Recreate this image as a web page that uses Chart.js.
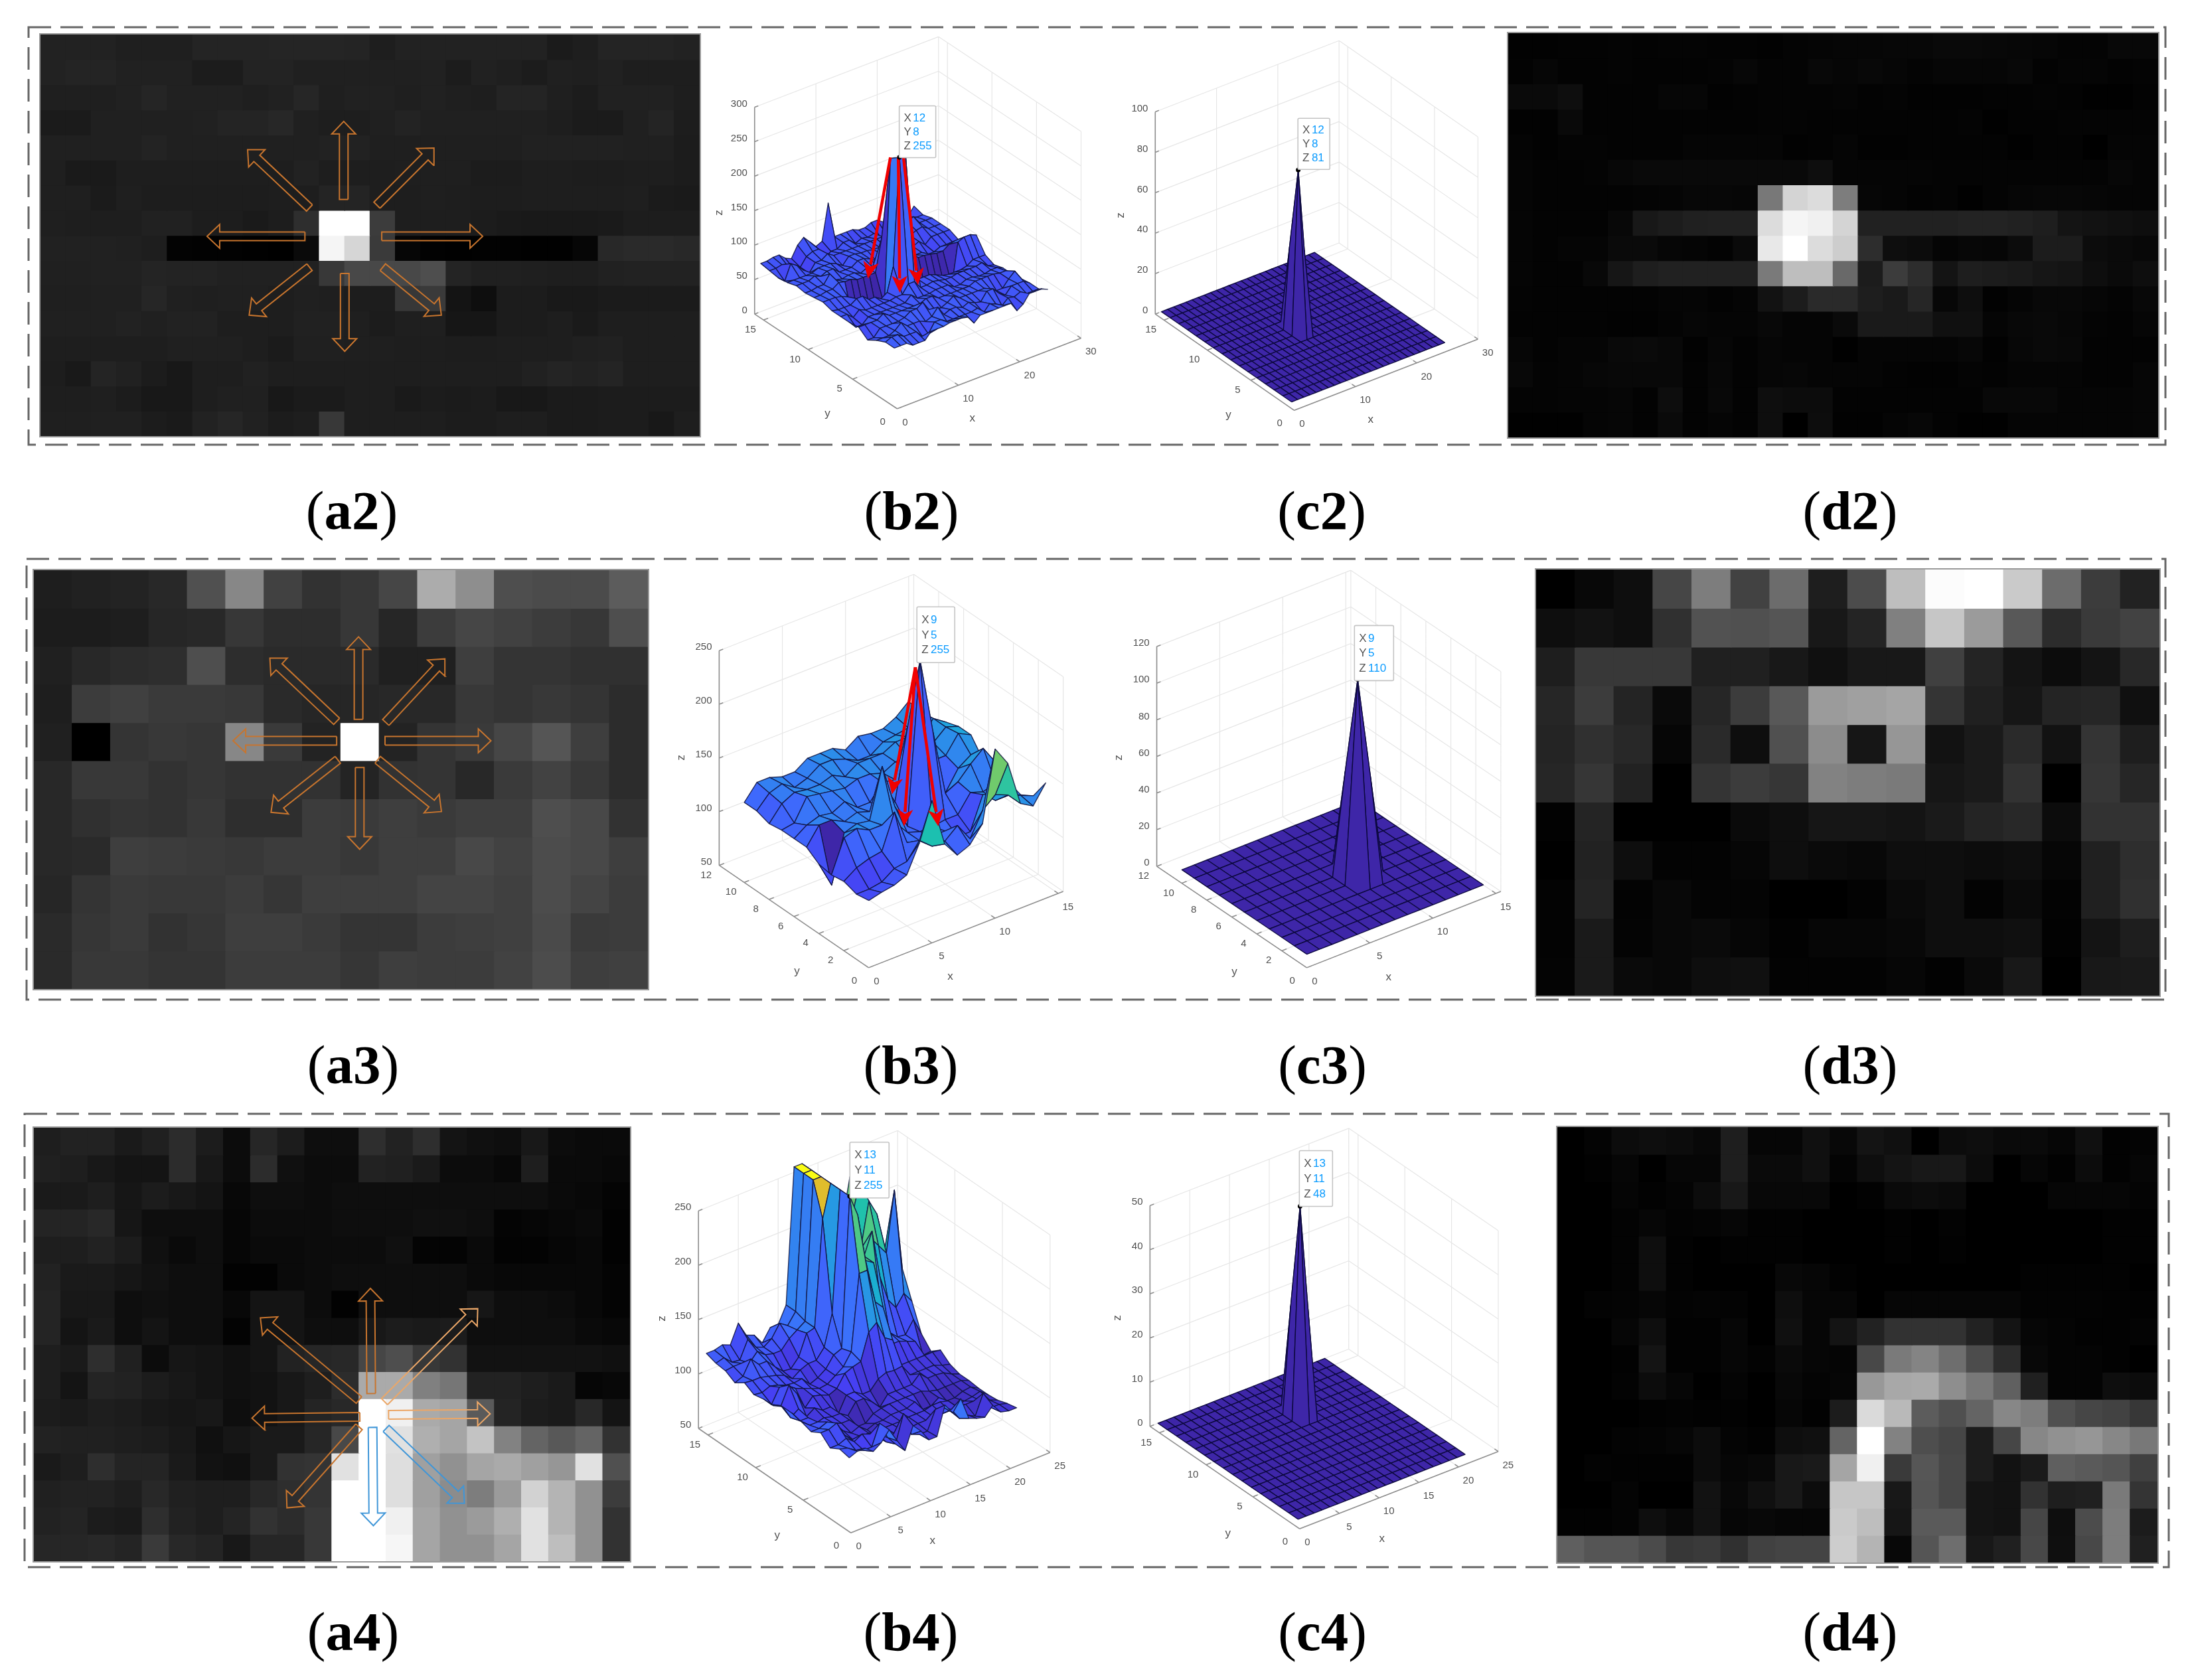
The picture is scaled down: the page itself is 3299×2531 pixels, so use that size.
<!DOCTYPE html>
<html>
<head>
<meta charset="utf-8">
<title>Small target neighbourhoods</title>
<script src="https://cdn.jsdelivr.net/npm/chart.js@4/dist/chart.umd.min.js"></script>
<style>
  html, body { margin: 0; background: #fff; }
  #page { position: relative; width: 3299px; height: 2531px; overflow: hidden; }
  #page canvas { position: absolute; }
  #frames { position: absolute; left: 0; top: 0; }
  .cap { position: absolute; transform: translate(-50%, -50%); font: 83px "Liberation Serif", serif; color: #000; white-space: nowrap; }
  .cap b { font-weight: 700; }
</style>
</head>
<body>
<div id="page">
<svg id="frames" width="3299" height="2531"></svg>
</div>
<script>
// grey levels of the image panels, row by row from the top
const a2Gray = [
  [34,34,34,31,31,31,36,36,36,37,37,37,36,30,34,34,34,34,34,34,27,30,36,36,36,34],
  [34,36,36,33,33,33,28,28,35,35,32,32,32,32,32,33,28,33,31,28,32,31,33,30,30,30],
  [31,31,31,33,37,33,33,33,31,33,38,31,33,33,31,33,31,30,36,36,31,28,33,33,33,30],
  [27,27,32,32,32,32,33,36,36,39,32,30,30,32,35,32,32,32,32,32,30,27,27,32,36,29],
  [32,32,32,32,35,32,32,32,32,32,32,34,34,31,31,31,31,31,31,33,33,33,33,32,32,28],
  [31,26,26,30,30,30,30,30,30,30,34,30,30,30,31,31,31,28,28,30,30,29,29,30,30,28],
  [31,31,27,31,29,29,29,29,29,30,30,36,36,30,30,31,30,29,29,30,30,30,30,31,27,26],
  [31,30,30,30,33,33,29,29,26,29,46,255,255,60,30,30,30,28,26,25,25,25,26,29,29,29],
  [33,33,33,32,30,3,2,2,1,0,10,245,214,58,6,2,1,2,2,1,1,6,40,42,42,40],
  [32,32,33,33,36,35,35,33,33,33,33,56,72,72,72,78,36,32,32,31,30,30,33,34,34,34],
  [31,31,32,32,38,32,31,32,32,30,32,31,29,29,55,58,20,14,28,28,25,25,27,27,27,27],
  [32,32,32,34,32,34,34,30,30,30,33,33,31,28,31,31,22,22,28,28,30,26,30,30,30,30],
  [30,30,30,30,30,32,32,32,30,27,32,32,31,31,30,30,29,29,30,30,30,32,33,30,30,30],
  [29,25,36,33,28,24,30,30,33,30,30,30,30,30,30,30,30,30,30,33,36,34,36,30,30,30],
  [30,30,31,28,24,24,30,32,32,24,27,27,30,30,26,28,27,28,24,24,27,27,28,28,28,28],
  [31,31,32,32,28,26,34,38,33,28,30,56,30,30,30,30,28,28,30,30,27,27,28,28,24,30]
];
const d2Gray = [
  [2,2,3,3,4,3,4,4,3,3,2,4,5,6,6,7,7,9,9,8,7,6,4,4,8,8],
  [3,6,3,3,4,3,3,3,4,7,4,4,8,6,8,6,4,6,6,6,8,3,5,5,3,4],
  [10,10,14,3,3,3,6,6,2,3,4,4,4,5,3,4,2,2,2,3,3,4,3,1,1,3],
  [2,2,9,3,3,3,3,3,3,3,4,4,3,3,3,3,3,3,4,1,3,3,4,4,4,4],
  [4,2,4,4,3,3,3,5,5,5,5,2,3,5,2,2,3,3,3,3,1,3,3,0,5,5],
  [5,3,3,4,7,9,9,9,9,9,9,9,14,5,5,5,5,4,4,4,4,4,4,4,7,5],
  [5,3,3,3,3,4,5,7,7,6,120,212,220,125,6,5,3,4,1,4,6,7,7,6,5,5],
  [5,3,3,3,8,24,28,32,33,33,220,245,240,212,33,33,33,33,35,35,33,30,20,18,16,14],
  [5,3,5,5,10,10,6,5,3,10,232,255,220,205,45,14,12,5,7,6,12,28,28,12,10,8],
  [5,3,3,8,22,30,33,33,33,33,122,190,190,105,28,60,45,20,30,28,26,22,20,14,10,14],
  [4,3,3,3,3,3,5,5,3,5,18,28,42,42,30,26,38,7,14,2,5,8,8,6,4,8],
  [3,3,3,3,2,2,4,6,5,5,8,5,5,10,26,26,26,16,16,5,8,9,7,4,3,6],
  [6,3,5,5,9,10,8,2,6,3,6,5,5,1,5,5,5,5,7,2,7,9,8,3,3,3],
  [8,4,5,7,8,8,8,3,7,3,6,7,5,5,5,3,2,2,4,3,5,5,5,3,3,6],
  [4,4,5,5,6,3,13,3,8,3,14,12,12,3,3,3,3,3,3,8,8,8,5,5,5,6],
  [1,1,1,5,6,3,10,3,5,3,14,0,13,2,2,5,7,3,1,1,5,5,5,5,5,6]
];
const a3Gray = [
  [30,33,35,40,80,135,65,50,55,70,172,142,78,75,75,92],
  [28,28,30,38,40,55,45,45,55,38,60,70,65,60,55,78],
  [32,40,44,46,78,45,42,42,42,32,32,62,52,52,48,48],
  [30,60,64,58,58,56,42,38,38,40,40,56,52,56,52,44],
  [32,0,52,56,54,135,58,35,255,35,52,58,70,85,62,44],
  [40,56,56,50,54,50,50,50,36,50,52,40,58,66,56,44],
  [40,48,52,50,56,46,46,60,58,62,58,62,62,78,72,50],
  [40,42,62,60,58,56,60,60,56,62,62,72,66,76,72,62],
  [38,52,58,56,56,60,54,62,62,62,68,68,64,76,68,60],
  [42,54,58,50,54,62,62,58,52,52,60,62,64,74,58,60],
  [42,56,56,52,52,60,60,60,54,62,60,60,66,76,62,64]
];
const d3Gray = [
  [0,8,14,70,125,66,108,30,76,190,252,255,202,108,60,34],
  [14,18,14,48,82,80,85,24,36,128,198,155,88,44,58,66],
  [30,56,56,56,32,32,24,16,24,24,64,36,20,12,20,40],
  [38,60,36,10,38,60,88,155,160,165,52,32,22,36,38,16],
  [36,48,40,6,42,14,80,140,22,150,18,26,42,18,52,30],
  [38,54,34,0,52,60,54,130,125,122,22,26,50,0,54,38],
  [2,36,0,0,0,10,14,22,22,20,26,36,40,12,50,50],
  [0,34,14,3,3,6,14,10,8,14,14,12,14,6,32,46],
  [3,36,3,8,4,4,0,0,3,10,14,3,10,3,32,48],
  [3,26,4,8,10,6,2,6,6,8,14,14,16,2,20,30],
  [4,26,10,8,14,16,3,3,3,6,2,10,24,0,24,26]
];
const a4Gray = [
  [30,34,34,26,32,44,28,12,38,28,14,14,46,34,46,20,16,14,24,12,10,10],
  [32,30,24,20,20,44,24,12,44,16,12,12,34,32,26,12,12,8,30,10,10,8],
  [26,26,30,22,28,24,20,8,14,14,12,14,14,14,14,14,14,14,14,10,8,4],
  [36,36,40,22,14,14,14,6,12,12,12,14,14,14,16,16,14,4,6,8,10,2],
  [30,30,34,28,16,10,14,6,10,10,12,12,12,16,4,4,10,3,3,6,8,2],
  [34,26,26,22,18,14,14,2,2,10,12,14,14,14,14,14,10,8,8,8,8,4],
  [36,24,24,14,16,14,14,8,20,20,12,2,14,14,14,14,22,14,14,12,8,4],
  [36,20,26,14,20,14,14,3,20,20,14,14,24,28,26,28,14,14,14,14,10,8],
  [30,26,46,32,12,22,20,16,20,34,38,40,70,78,56,50,18,18,18,18,18,16],
  [30,20,36,34,28,24,20,16,18,24,30,44,170,170,128,118,34,34,30,26,6,8],
  [28,26,30,28,24,22,24,14,18,24,36,40,255,240,170,165,90,36,28,26,40,20],
  [34,32,32,30,28,24,16,22,26,26,38,72,255,225,175,165,195,130,100,88,100,50],
  [26,30,46,36,36,26,18,16,26,50,52,225,255,222,160,145,165,170,160,150,225,80],
  [32,34,34,30,40,32,30,30,40,46,52,255,255,222,160,140,125,155,210,180,145,60],
  [34,36,28,26,46,34,30,36,50,44,56,255,255,240,165,145,155,175,225,180,145,50],
  [38,38,40,36,58,40,36,24,38,38,56,255,255,246,165,145,145,165,225,190,145,50]
];
const d4Gray = [
  [0,4,12,14,12,8,30,6,6,16,8,20,16,0,12,14,10,10,6,16,2,4],
  [0,2,6,0,6,6,30,10,10,16,4,14,20,24,24,12,0,6,2,12,2,6],
  [0,0,5,2,4,12,24,8,8,8,0,2,10,12,10,0,0,0,6,6,6,4],
  [0,0,3,6,3,4,6,2,2,0,0,0,2,0,3,0,0,0,0,0,2,2],
  [0,0,3,14,2,0,2,2,2,0,0,0,2,0,2,0,0,0,0,0,2,2],
  [0,0,3,14,2,0,0,0,8,6,2,0,0,0,0,0,0,2,2,2,2,0],
  [0,3,4,6,3,4,3,0,14,6,6,0,6,6,6,6,6,3,3,3,2,2],
  [0,0,6,14,2,2,6,0,16,6,20,34,50,50,50,34,20,6,4,2,2,4],
  [0,0,2,20,2,2,6,3,10,6,5,72,122,132,110,76,44,8,4,4,2,0],
  [0,0,3,12,6,0,4,0,8,4,6,152,168,170,142,120,96,32,4,4,14,12],
  [0,0,0,2,3,2,2,0,6,2,28,218,185,92,80,100,135,125,80,70,66,55],
  [0,0,3,4,6,12,4,2,14,16,100,255,130,78,70,28,70,135,145,150,135,120],
  [0,3,2,2,2,12,6,8,24,26,165,240,58,86,72,28,18,26,95,90,85,64],
  [0,0,4,0,0,18,8,16,24,12,198,198,24,85,72,20,18,50,30,32,122,52],
  [2,2,4,14,8,18,6,8,6,6,202,190,22,90,90,20,18,70,14,76,125,28],
  [95,85,85,75,55,58,48,65,68,68,205,180,8,85,110,24,32,72,15,72,125,32]
];

// surface heights, one row per y starting at y = 1
const b2Z = [
  [76,76,76,70,70,70,80,80,80,82,82,82,80,68,76,76,76,76,76,76,62,68,80,80,80,76],
  [76,80,80,74,74,74,64,64,78,78,72,72,72,72,72,74,64,74,70,64,72,70,74,68,68,68],
  [70,70,70,74,82,74,74,74,70,74,84,70,74,74,70,74,70,68,80,80,70,64,74,74,74,68],
  [62,62,72,72,72,72,74,80,80,86,72,68,68,72,78,72,72,72,72,72,68,62,62,72,80,66],
  [72,72,72,72,78,72,72,72,72,72,72,76,76,70,70,70,70,70,70,74,74,74,74,72,72,64],
  [70,60,60,68,68,68,68,68,68,68,76,68,68,68,70,70,70,64,64,68,68,66,66,68,68,64],
  [70,70,62,70,66,66,66,66,66,68,68,80,80,68,68,70,68,66,66,68,68,68,68,70,62,60],
  [70,68,68,68,74,74,66,66,60,66,100,255,255,130,68,68,68,64,60,58,58,58,60,66,66,66],
  [74,74,74,72,68,24,22,22,20,18,34,245,214,120,26,22,20,22,22,20,20,26,86,90,90,86],
  [72,72,74,74,80,78,78,74,74,74,74,120,150,150,150,160,80,72,72,70,68,68,74,76,76,76],
  [70,70,72,72,84,72,70,72,72,68,72,70,66,66,118,124,50,40,64,64,58,58,62,62,62,62],
  [72,72,72,76,72,76,76,68,68,68,74,74,70,64,70,70,52,52,64,64,68,60,68,68,68,68],
  [68,68,68,68,68,72,72,72,68,62,72,72,70,70,68,68,66,66,68,68,68,72,74,68,68,68],
  [66,58,80,74,64,56,68,68,74,68,68,68,68,68,68,68,68,68,68,74,80,76,80,68,68,68],
  [68,68,70,64,56,56,68,72,72,56,62,62,68,68,60,64,62,64,56,56,62,62,64,64,64,64],
  [70,70,72,72,64,60,76,84,74,64,68,120,68,68,68,68,64,64,68,68,62,62,64,64,56,68]
];
const b3Z = [
  [100,103,105,110,135,170,125,110,115,130,195,177,135,128,145],
  [98,98,100,108,110,125,115,115,125,108,130,140,135,130,125],
  [102,110,114,116,148,115,112,112,112,102,102,132,122,122,118],
  [100,130,134,128,128,126,112,108,108,110,110,126,122,126,122],
  [102,78,122,126,124,170,128,105,255,185,122,128,140,150,132],
  [110,126,126,120,124,120,120,120,185,120,122,110,128,136,126],
  [110,118,122,120,126,116,116,130,128,132,128,132,132,148,142],
  [110,112,132,130,128,126,130,130,126,132,132,142,136,146,142],
  [108,122,128,126,126,130,124,132,132,132,138,138,134,146,138],
  [112,124,128,120,124,132,132,128,122,122,130,132,134,144,128],
  [112,126,126,122,122,130,130,130,124,132,130,130,136,146,132]
];
const b4Z = [
  [110,113,113,107,112,121,108,96,116,108,97,97,123,113,123,102,99,97,105,96,94,94],
  [112,110,105,102,102,121,105,96,121,99,96,96,113,112,107,96,96,92,110,94,94,92],
  [107,107,110,104,108,105,102,92,97,97,96,97,97,97,97,97,97,97,97,94,92,89],
  [115,115,118,104,97,97,97,91,96,96,96,97,97,97,99,99,97,89,91,92,94,88],
  [110,110,113,108,99,94,97,91,94,94,96,96,96,99,89,89,94,88,88,91,92,88],
  [113,107,107,104,100,97,97,88,88,94,96,97,97,97,97,97,94,92,92,92,92,89],
  [115,105,105,97,99,97,97,92,102,102,96,88,97,97,97,97,104,97,97,96,92,89],
  [115,102,107,97,102,97,97,88,102,102,97,97,105,108,107,108,97,97,97,97,94,92],
  [110,107,123,112,96,104,102,99,102,113,116,118,142,148,131,126,100,100,100,100,100,99],
  [110,102,115,113,108,105,102,99,100,105,110,121,190,190,158,150,113,113,110,107,91,92],
  [108,107,110,108,105,104,105,97,100,105,115,118,255,235,190,185,138,115,108,107,118,102],
  [113,112,112,110,108,105,99,104,107,107,116,144,255,225,195,185,205,160,136,126,136,126],
  [107,110,123,115,115,107,100,99,107,126,128,225,255,222,180,160,185,190,180,170,225,150],
  [112,113,113,110,118,112,110,110,118,123,128,255,255,222,180,155,140,175,215,200,165,134],
  [113,115,108,107,123,113,110,115,126,121,131,255,255,240,185,160,175,195,225,200,165,126],
  [116,116,118,115,132,118,115,105,116,116,131,255,255,246,185,160,160,185,225,210,165,126]
];

// filtered surfaces: flat zero rows, the peak row and the row behind it
const c2Flat = [0,0,0,0,0,0,0,0,0,0,0,0,0,0,0,0,0,0,0,0,0,0,0,0,0,0];
const c2Peak = [0,0,0,0,0,0,0,0,0,0,0,81,40,0,0,0,0,0,0,0,0,0,0,0,0,0];
const c2Back = [0,0,0,0,0,0,0,0,0,0,0,40,0,0,0,0,0,0,0,0,0,0,0,0,0,0];
const c2Z = [c2Flat,c2Flat,c2Flat,c2Flat,c2Flat,c2Flat,c2Flat,c2Peak,c2Back,c2Flat,c2Flat,c2Flat,c2Flat,c2Flat,c2Flat,c2Flat];
const c3Flat = [0,0,0,0,0,0,0,0,0,0,0,0,0,0,0];
const c3Peak = [0,0,0,0,0,0,0,0,110,55,0,0,0,0,0];
const c3Back = [0,0,0,0,0,0,0,0,55,0,0,0,0,0,0];
const c3Z = [c3Flat,c3Flat,c3Flat,c3Flat,c3Peak,c3Back,c3Flat,c3Flat,c3Flat,c3Flat,c3Flat];
const c4Flat = [0,0,0,0,0,0,0,0,0,0,0,0,0,0,0,0,0,0,0,0,0,0];
const c4Peak = [0,0,0,0,0,0,0,0,0,0,0,0,48,24,0,0,0,0,0,0,0,0];
const c4Back = [0,0,0,0,0,0,0,0,0,0,0,0,24,0,0,0,0,0,0,0,0,0];
const c4Z = [c4Flat,c4Flat,c4Flat,c4Flat,c4Flat,c4Flat,c4Flat,c4Flat,c4Flat,c4Flat,c4Peak,c4Back,c4Flat,c4Flat,c4Flat,c4Flat];

// axis ticks
const ticksX30 = [0,10,20,30], ticksX15 = [0,5,10,15], ticksX25 = [0,5,10,15,20,25];
const ticksY15 = [0,5,10,15], ticksY12 = [0,2,4,6,8,10,12];
const ticksZb2 = [0,50,100,150,200,250,300], ticksZc2 = [0,20,40,60,80,100];
const ticksZb3 = [50,100,150,200,250], ticksZc3 = [0,20,40,60,80,100,120];
const ticksZb4 = [50,100,150,200,250], ticksZc4 = [0,10,20,30,40,50];

// arrow overlays on the image panels, in cell units: x0, y0, x1, y1, colour
const ORANGE = '#c8752e', BLUE = '#3f96d8', PALE = '#eba768';
const a2Arrows = [
  [11.96,6.57,11.96,3.46,ORANGE],[10.61,6.91,8.17,4.59,ORANGE],[13.27,6.8,15.52,4.52,ORANGE],
  [10.43,8.04,6.57,8.04,ORANGE],[13.46,8.04,17.44,8.04,ORANGE],[10.61,9.27,8.23,11.18,ORANGE],
  [13.5,9.27,15.81,11.18,ORANGE],[12,9.52,12,12.62,ORANGE]
];
const a3Arrows = [
  [8.46,3.92,8.46,1.75,ORANGE],[7.89,3.97,6.15,2.31,ORANGE],[9.17,4,10.71,2.33,ORANGE],
  [7.89,4.48,5.19,4.48,ORANGE],[9.15,4.48,11.91,4.48,ORANGE],[7.92,4.98,6.18,6.36,ORANGE],
  [8.96,4.98,10.62,6.34,ORANGE],[8.49,5.18,8.49,7.33,ORANGE]
];
const a4Arrows = [
  [12.45,9.81,12.42,5.93,ORANGE],[12,10.05,8.36,7.02,ORANGE],[12.94,10.11,16.38,6.68,PALE],
  [12.03,10.67,8.05,10.72,ORANGE],[13.09,10.6,16.84,10.56,PALE],[12,11.04,9.34,14.03,ORANGE],
  [13,11.1,15.89,13.86,BLUE],[12.5,11.06,12.53,14.69,BLUE]
];

const parulaStops = ['#3e26a8','#4640f3','#3d6dfd','#2d8ceb','#1ea7da','#13beb8','#40c88f','#8ecb55','#d7ba2e','#fdc727','#f9fb15'];

function parula(t) {
  t = Math.min(1, Math.max(0, t)) * (parulaStops.length - 1);
  const i = Math.min(parulaStops.length - 2, Math.floor(t)), f = t - i;
  const ch = (hex, k) => parseInt(hex.substr(1 + k * 2, 2), 16);
  const c = [0, 1, 2].map(k => Math.round(ch(parulaStops[i], k) * (1 - f) + ch(parulaStops[i + 1], k) * f));
  return `rgb(${c[0]},${c[1]},${c[2]})`;
}

const page = document.getElementById('page');

function addCanvas(left, top, w, h) {
  const cv = document.createElement('canvas');
  cv.width = w; cv.height = h;
  cv.style.left = left + 'px'; cv.style.top = top + 'px';
  cv.style.width = w + 'px'; cv.style.height = h + 'px';
  page.appendChild(cv);
  return cv;
}

const baseOptions = {
  responsive: false, animation: false, devicePixelRatio: 1, events: [],
  layout: { padding: 0 },
  plugins: { legend: { display: false }, tooltip: { enabled: false } }
};

function arrowOutline(a, cellW, cellH, sw, hw, hl) {
  const x0 = a[0] * cellW, y0 = a[1] * cellH, x1 = a[2] * cellW, y1 = a[3] * cellH;
  const len = Math.hypot(x1 - x0, y1 - y0), ux = (x1 - x0) / len, uy = (y1 - y0) / len, nx = -uy, ny = ux;
  const bx = x1 - ux * hl, by = y1 - uy * hl;
  const pts = [
    [x0 + nx * sw, y0 + ny * sw], [bx + nx * sw, by + ny * sw], [bx + nx * hw, by + ny * hw], [x1, y1],
    [bx - nx * hw, by - ny * hw], [bx - nx * sw, by - ny * sw], [x0 - nx * sw, y0 - ny * sw], [x0 + nx * sw, y0 + ny * sw]
  ];
  return pts.map(p => ({ x: p[0] / cellW, y: p[1] / cellH }));
}

function heatPanel(gray, left, top, right, bottom, arrows) {
  const rows = gray.length, cols = gray[0].length, w = right - left, h = bottom - top;
  const cellW = w / cols, cellH = h / rows;
  const cv = addCanvas(left, top, w, h);
  cv.style.outline = '2px solid #9a9a9a';
  const datasets = [];
  (arrows || []).forEach(a => datasets.push({
    type: 'line', data: arrowOutline(a, cellW, cellH, 6.5, 18, 19),
    borderColor: a[4], borderWidth: 2, pointRadius: 0, tension: 0, fill: false
  }));
  gray.forEach((row, r) => datasets.push({
    type: 'bar', grouped: false, barThickness: cellW, inflateAmount: 0.7, borderWidth: 0,
    data: row.map((g, c) => ({ x: c + 0.5, y: [r, r + 1] })),
    backgroundColor: row.map(g => `rgb(${g},${g},${g})`)
  }));
  new Chart(cv, {
    data: { datasets },
    options: { ...baseOptions, scales: {
      x: { type: 'linear', min: 0, max: cols, offset: false, display: false },
      y: { type: 'linear', min: 0, max: rows, reverse: true, display: false }
    } }
  });
}

function surfacePanel(cfg) {
  const [left, top, w, h] = cfg.box;
  const ex = [(cfg.R[0] - cfg.F[0]) / cfg.xMax, (cfg.R[1] - cfg.F[1]) / cfg.xMax];
  const ey = [(cfg.L[0] - cfg.F[0]) / cfg.yMax, (cfg.L[1] - cfg.F[1]) / cfg.yMax];
  const ez = (cfg.L[1] - cfg.zTopPx) / (cfg.zTop - cfg.zMin);
  const project = (x, y, z) => ({
    x: cfg.F[0] + x * ex[0] + y * ey[0],
    y: cfg.F[1] + x * ex[1] + y * ey[1] - (z - cfg.zMin) * ez
  });
  const gap = { x: NaN, y: NaN };
  const zTop = cfg.zTop, zMin = cfg.zMin, xMax = cfg.xMax, yMax = cfg.yMax;

  const grid = [], axes = [];
  const seg = (list, a, b) => { list.push(a, b, gap); };
  cfg.ticksX.forEach(x => {
    seg(grid, project(x, 0, zMin), project(x, yMax, zMin));
    seg(grid, project(x, yMax, zMin), project(x, yMax, zTop));
    seg(axes, project(x, 0, zMin), project(x, yMax * 0.025, zMin));
  });
  cfg.ticksY.forEach(y => {
    seg(grid, project(0, y, zMin), project(xMax, y, zMin));
    seg(grid, project(xMax, y, zMin), project(xMax, y, zTop));
    seg(axes, project(0, y, zMin), project(xMax * 0.025, y, zMin));
  });
  cfg.ticksZ.forEach(z => {
    seg(grid, project(0, yMax, z), project(xMax, yMax, z));
    seg(grid, project(xMax, yMax, z), project(xMax, 0, z));
    seg(axes, project(0, yMax, z), project(xMax * 0.02, yMax, z));
  });
  seg(grid, project(xMax, yMax, zMin), project(xMax, yMax, zTop));
  seg(grid, project(xMax, 0, zMin), project(xMax, 0, zTop));
  seg(axes, project(0, 0, zMin), project(xMax, 0, zMin));
  seg(axes, project(0, 0, zMin), project(0, yMax, zMin));
  seg(axes, project(0, yMax, zMin), project(0, yMax, zTop));

  const datasets = [];
  const lineSet = (data, color, width) => ({
    type: 'line', data, borderColor: color, borderWidth: width, pointRadius: 0, tension: 0, fill: false
  });

  // first dataset is painted last: overlays, then faces from the viewer backwards
  const tip = project(cfg.tipValues[0], cfg.tipValues[1], cfg.tipValues[2]);
  datasets.push({ type: 'line', data: [tip], pointRadius: 3.5, pointBackgroundColor: '#000', pointBorderWidth: 0, showLine: false });
  (cfg.redArrows || []).forEach(a => {
    const len = Math.hypot(a[2] - a[0], a[3] - a[1]), ux = (a[2] - a[0]) / len, uy = (a[3] - a[1]) / len;
    const bx = a[2] - ux * 26, by = a[3] - uy * 26;
    const nx = -uy, ny = ux;
    datasets.push({
      type: 'line', borderWidth: 0, pointRadius: 0, tension: 0, fill: 'shape', backgroundColor: '#f00000', borderColor: '#f00000',
      data: [{ x: a[2], y: a[3] }, { x: bx + nx * 12, y: by + ny * 12 }, { x: bx + ux * 7, y: by + uy * 7 }, { x: bx - nx * 12, y: by - ny * 12 }, { x: a[2], y: a[3] }]
    });
    datasets.push(lineSet([{ x: a[0], y: a[1] }, { x: bx + ux * 4, y: by + uy * 4 }], '#f00000', 4.5));
  });

  const zs = cfg.z, rows = zs.length, cols = zs[0].length;
  for (let r = 0; r < rows - 1; r++) {
    for (let c = 0; c < cols - 1; c++) {
      const x = c + 1, y = r + 1;
      const color = parula((zs[r][c] - cfg.clim[0]) / (cfg.clim[1] - cfg.clim[0]));
      const p0 = project(x, y, zs[r][c]);
      datasets.push({
        type: 'line', tension: 0, pointRadius: 0, fill: 'shape', backgroundColor: color,
        borderColor: cfg.edge, borderWidth: 1.4, borderJoinStyle: 'round',
        data: [p0, project(x + 1, y, zs[r][c + 1]), project(x + 1, y + 1, zs[r + 1][c + 1]), project(x, y + 1, zs[r + 1][c]), p0]
      });
    }
  }
  datasets.push(lineSet(axes, '#8f8f8f', 1.6));
  datasets.push(lineSet(grid, '#e6e6e6', 1.2));

  const textPlugin = {
    id: 'axisText',
    afterDatasetsDraw(chart) {
      const ctx = chart.ctx, sx = chart.scales.x, sy = chart.scales.y;
      const px = v => sx.getPixelForValue(v), py = v => sy.getPixelForValue(v);
      ctx.save();
      ctx.fillStyle = '#4f4f4f';
      ctx.font = '15px "Liberation Sans"';
      ctx.textBaseline = 'middle';
      ctx.textAlign = 'center';
      cfg.ticksX.forEach(v => {
        const p = project(v, 0, zMin);
        ctx.fillText(String(v), px(p.x + (v === 0 ? 12 : 15)), py(p.y + 21));
      });
      cfg.ticksY.forEach(v => {
        const p = project(0, v, zMin);
        ctx.fillText(String(v), px(p.x + (v === 0 ? -22 : -20)), py(p.y + (v === 0 ? 20 : 15)));
      });
      ctx.textAlign = 'right';
      cfg.ticksZ.forEach(v => {
        const p = project(0, yMax, v);
        ctx.fillText(String(v), px(p.x - 11), py(p.y - 5));
      });
      ctx.textAlign = 'center';
      ctx.font = '17px "Liberation Sans"';
      ctx.fillText('x', px(cfg.labelX[0]), py(cfg.labelX[1]));
      ctx.fillText('y', px(cfg.labelY[0]), py(cfg.labelY[1]));
      ctx.save();
      ctx.translate(px(cfg.labelZ[0]), py(cfg.labelZ[1]));
      ctx.rotate(-Math.PI / 2);
      ctx.fillText('z', 0, 0);
      ctx.restore();

      // data tip box
      const [bx, by, bw, bh] = cfg.tipBox;
      ctx.fillStyle = '#fff';
      ctx.strokeStyle = '#c4c4c4';
      ctx.lineWidth = 1.6;
      ctx.beginPath();
      ctx.roundRect(px(bx), py(by), bw, bh, 2);
      ctx.fill();
      ctx.stroke();
      ctx.font = '17px "Liberation Sans"';
      ctx.textAlign = 'left';
      ['X', 'Y', 'Z'].forEach((name, i) => {
        const ty = py(by + bh * (0.24 + i * 0.275));
        ctx.fillStyle = '#555';
        ctx.fillText(name, px(bx + 7), ty);
        ctx.fillStyle = '#0a9bff';
        ctx.fillText(String(cfg.tipValues[i]), px(bx + 21), ty);
      });
      ctx.restore();
    }
  };

  new Chart(addCanvas(left, top, w, h), {
    data: { datasets },
    options: { ...baseOptions, scales: {
      x: { type: 'linear', min: left, max: left + w, display: false },
      y: { type: 'linear', min: top, max: top + h, reverse: true, display: false }
    } },
    plugins: [textPlugin]
  });
}

// dashed frames around each row
const frames = [[43, 41, 3262, 670], [40, 842, 3262, 1506], [37, 1678, 3267, 2361]];
document.getElementById('frames').innerHTML = frames.map(f =>
  `<rect x="${f[0]}" y="${f[1]}" width="${f[2] - f[0]}" height="${f[3] - f[1]}" fill="none" stroke="#666" stroke-width="3" stroke-dasharray="34 14"/>`
).join('');

heatPanel(a2Gray, 61, 52, 1054, 657, a2Arrows);
heatPanel(d2Gray, 2272, 50, 3251, 659);
heatPanel(a3Gray, 51, 859, 976, 1490, a3Arrows);
heatPanel(d3Gray, 2314, 858, 3253, 1500);
heatPanel(a4Gray, 51, 1699, 949, 2352, a4Arrows);
heatPanel(d4Gray, 2346, 1698, 3250, 2354);

const EDGE_B = 'rgba(16,20,64,0.85)', EDGE_C = 'rgba(12,8,60,0.95)';

surfacePanel({ box: [1060, 45, 610, 620], F: [1351.3, 619.2], R: [1632, 511.6], L: [1133.7, 474.7],
  xMax: 30, yMax: 16, zMin: 0, zTop: 300, zTopPx: 159, z: b2Z, clim: [18, 360], edge: EDGE_B,
  ticksX: ticksX30, ticksY: ticksY15, ticksZ: ticksZb2, labelX: [1466, 634], labelY: [1245, 627], labelZ: [1080, 320],
  tipValues: [12, 8, 255], tipBox: [1354.5, 157, 55, 78],
  redArrows: [[1341, 235.6, 1306.7, 420.7], [1353, 235.6, 1355.3, 442.2], [1361, 235.6, 1383.2, 430.2]] });

surfacePanel({ box: [1670, 45, 600, 620], F: [1949.2, 621.6], R: [2229.8, 513], L: [1737.2, 474.7],
  xMax: 30, yMax: 16, zMin: 0, zTop: 100, zTopPx: 166, z: c2Z, clim: [0, 1000], edge: EDGE_C,
  ticksX: ticksX30, ticksY: ticksY15, ticksZ: ticksZc2, labelX: [2066, 636], labelY: [1849, 629], labelZ: [1684, 324],
  tipValues: [12, 8, 81], tipBox: [1955, 176, 48, 77] });

surfacePanel({ box: [1000, 850, 640, 650], F: [1308.4, 1461.4], R: [1605.2, 1345], L: [1080.4, 1305.3],
  xMax: 15.4, yMax: 12, zMin: 50, zTop: 250, zTopPx: 977.8, z: b3Z, clim: [78, 255], edge: EDGE_B,
  ticksX: ticksX15, ticksY: ticksY12, ticksZ: ticksZb3, labelX: [1433, 1475], labelY: [1199, 1467], labelZ: [1023, 1141],
  tipValues: [9, 5, 255], tipBox: [1382, 911, 57, 84],
  redArrows: [[1379.7, 1003.3, 1344, 1197], [1379.7, 1003.3, 1362.3, 1245.6], [1379.7, 1003.3, 1414.5, 1245.6]] });

surfacePanel({ box: [1660, 850, 650, 650], F: [1968.3, 1461.4], R: [2264.3, 1345], L: [1739.5, 1306.8],
  xMax: 15.4, yMax: 12, zMin: 0, zTop: 120, zTopPx: 971.6, z: c3Z, clim: [0, 1000], edge: EDGE_C,
  ticksX: ticksX15, ticksY: ticksY12, ticksZ: ticksZc3, labelX: [2093, 1476], labelY: [1858, 1468], labelZ: [1682, 1141],
  tipValues: [9, 5, 110], tipBox: [2041, 939.5, 59, 83] });

surfacePanel({ box: [980, 1690, 640, 670], F: [1281.5, 2312.7], R: [1585.4, 2190.2], L: [1049, 2153.5],
  xMax: 25, yMax: 16, zMin: 50, zTop: 250, zTopPx: 1821.8, z: b4Z, clim: [85, 255], edge: EDGE_B,
  ticksX: ticksX25, ticksY: ticksY15, ticksZ: ticksZb4, labelX: [1406, 2325], labelY: [1169, 2317], labelZ: [993, 1986],
  tipValues: [13, 11, 255], tipBox: [1280, 1717, 59, 84] });

surfacePanel({ box: [1660, 1690, 650, 670], F: [1957.3, 2306.5], R: [2260.4, 2188.7], L: [1729.2, 2150.4],
  xMax: 25, yMax: 16, zMin: 0, zTop: 50, zTopPx: 1813.7, z: c4Z, clim: [0, 1000], edge: EDGE_C,
  ticksX: ticksX25, ticksY: ticksY15, ticksZ: ticksZc4, labelX: [2083, 2322], labelY: [1848, 2314], labelZ: [1680, 1985],
  tipValues: [13, 11, 48], tipBox: [1957, 1730, 50, 84] });

// panel captions
const captions = [
  ['a','2',530,769],['b','2',1373,769],['c','2',1991,769],['d','2',2787,769],
  ['a','3',532,1604],['b','3',1372,1604],['c','3',1992,1604],['d','3',2787,1604],
  ['a','4',532,2458],['b','4',1372,2458],['c','4',1992,2458],['d','4',2787,2458]
];
captions.forEach(c => {
  const el = document.createElement('div');
  el.className = 'cap';
  el.style.left = c[2] + 'px'; el.style.top = c[3] + 'px';
  el.innerHTML = `(<b>${c[0]}${c[1]}</b>)`;
  page.appendChild(el);
});
</script>
</body>
</html>
